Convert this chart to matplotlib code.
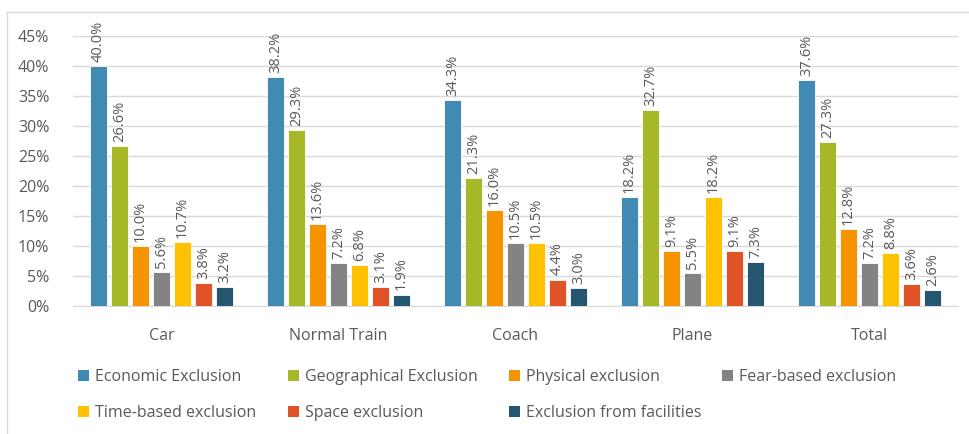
import matplotlib
matplotlib.use("Agg")
import matplotlib.pyplot as plt
from matplotlib.patches import Rectangle
from matplotlib.lines import Line2D
import numpy as np

plt.rcParams['font.family'] = ['Open Sans', 'DejaVu Sans']

modes = ["Car", "Normal Train", "Coach", "Plane", "Total"]
series = ["Economic Exclusion", "Geographical Exclusion", "Physical exclusion",
          "Fear-based exclusion", "Time-based exclusion", "Space exclusion",
          "Exclusion from facilities"]

economic = [40.0, 38.2, 34.3, 18.2, 37.6]
geographical = [26.6, 29.3, 21.3, 32.7, 27.3]
physical = [10.0, 13.6, 16.0, 9.1, 12.8]
fear = [5.6, 7.2, 10.5, 5.5, 7.2]
time_based = [10.7, 6.8, 10.5, 18.2, 8.8]
space = [3.8, 3.1, 4.4, 9.1, 3.6]
facilities = [3.2, 1.9, 3.0, 7.3, 2.6]

colors = ["#418AB3", "#A6B727", "#F59300", "#838383", "#FEC200", "#DF5327", "#255670"]
text_col = "#595959"

values = [economic, geographical, physical, fear, time_based, space, facilities]

W, H = 970, 434
fig = plt.figure(figsize=(W / 100, H / 100), dpi=100)
ax = fig.add_axes([73 / W, 1 - 306 / H, (958 - 73) / W, 270 / H])

x = np.arange(len(modes))
pitch = 0.1186
width = 0.092
for i, (vals, c) in enumerate(zip(values, colors)):
    pos = x + (i - 3) * pitch
    ax.bar(pos, vals, width, color=c, edgecolor="white", linewidth=0.6, zorder=3)
    for px, v in zip(pos, vals):
        ax.annotate(f"{v:.1f}%", (px, v), xytext=(0, 3), textcoords="offset points",
                    rotation=90, ha="center", va="bottom", fontsize=10.5, color=text_col)

ax.set_xlim(-0.5, len(modes) - 0.5)
ax.set_ylim(0, 45)
ax.set_yticks(range(0, 46, 5))
ax.set_yticklabels([f"{t}%" for t in range(0, 46, 5)])
ax.set_xticks(x)
ax.set_xticklabels(modes)
ax.tick_params(length=0, labelsize=11.5, colors=text_col)
ax.tick_params(axis="x", pad=16)
ax.tick_params(axis="y", pad=17)
ax.grid(axis="y", color="#D9D9D9", linewidth=1, zorder=0)
for s in ["top", "right", "left"]:
    ax.spines[s].set_visible(False)
ax.spines["bottom"].set_color("#D9D9D9")
ax.set_axisbelow(True)

# legend laid out in two rows, four slots per row
leg_x = [78, 288, 509, 722]
leg_y = [375, 411]
for k, (name, c) in enumerate(zip(series, colors)):
    lx, ly = leg_x[k % 4], leg_y[k // 4]
    fig.add_artist(Rectangle((lx / W, 1 - (ly + 5.5) / H), 11 / W, 11 / H,
                             facecolor=c, edgecolor="none", transform=fig.transFigure))
    fig.text((lx + 17) / W, 1 - ly / H, name, fontsize=11.5, color=text_col,
             ha="left", va="center_baseline")

# outer chart border
fig.add_artist(Line2D([7 / W, 7 / W], [0, 1 - 12 / H], color="#D9D9D9", linewidth=1))
fig.add_artist(Line2D([7 / W, 1], [1 - 12 / H, 1 - 12 / H], color="#D9D9D9", linewidth=1))

fig.savefig("out.png", dpi=100)
